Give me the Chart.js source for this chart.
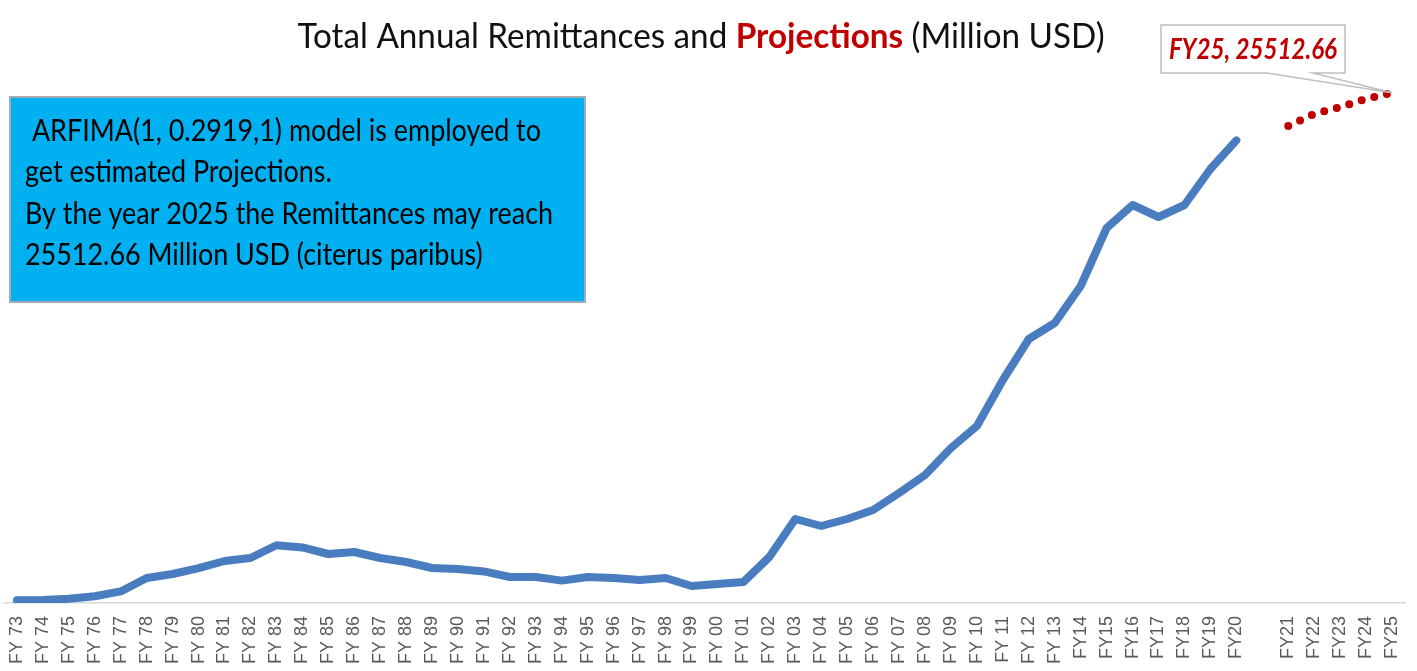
<!DOCTYPE html>
<html>
<head>
<meta charset="utf-8">
<title>Total Annual Remittances and Projections</title>
<script src="https://cdn.jsdelivr.net/npm/chart.js@4/dist/chart.umd.min.js"></script>
<style>
  html, body { margin: 0; padding: 0; background: #fff; }
  #wrap { width: 1417px; height: 671px; position: relative; }
</style>
</head>
<body>
<div id="wrap"><canvas id="remitChart" width="1417" height="671"></canvas></div>
<script>
// fiscal years, history then projections (one blank slot between them)
const historyYears = ['FY 73','FY 74','FY 75','FY 76','FY 77','FY 78','FY 79','FY 80','FY 81','FY 82',
  'FY 83','FY 84','FY 85','FY 86','FY 87','FY 88','FY 89','FY 90','FY 91','FY 92','FY 93','FY 94',
  'FY 95','FY 96','FY 97','FY 98','FY 99','FY 00','FY 01','FY 02','FY 03','FY 04','FY 05','FY 06',
  'FY 07','FY 08','FY 09','FY 10','FY 11','FY 12','FY 13','FY14','FY15','FY16','FY17','FY18','FY19','FY20'];
const projectionYears = ['FY21','FY22','FY23','FY24','FY25'];

// million USD
const remittances = [136, 150, 210, 339, 578, 1250, 1450, 1748, 2100, 2250,
  2886, 2780, 2450, 2550, 2250, 2050, 1750, 1700, 1580, 1300, 1300, 1120,
  1300, 1250, 1150, 1250, 850, 950, 1050, 2300, 4200, 3850, 4200, 4650,
  5500, 6400, 7750, 8850, 11150, 13200, 14000, 15850, 18750, 19900, 19300, 19900, 21700, 23131];
const projections = [23850, 24450, 24800, 25200, 25512.66];

const noteLines = [
  ' ARFIMA(1, 0.2919,1) model is employed to',
  'get estimated Projections.',
  'By the year 2025 the Remittances may reach',
  '25512.66 Million USD (citerus paribus)'
];

const labels = historyYears.concat([''], projectionYears);
const gap = new Array(projectionYears.length + 1).fill(null);
const histData = remittances.concat(gap);
const projData = new Array(historyYears.length + 1).fill(null).concat(projections);

// draw a run of differently styled text pieces squeezed into a given width
function drawParts(ctx, parts, x, y, width, align) {
  let total = 0;
  parts.forEach(p => { ctx.font = p.font; p.w = ctx.measureText(p.text).width; total += p.w; });
  const sx = width ? width / total : 1;
  ctx.save();
  ctx.translate(align === 'center' ? x - total * sx / 2 : x, y);
  ctx.scale(sx, 1);
  ctx.textBaseline = 'alphabetic';
  ctx.textAlign = 'left';
  let cx = 0;
  parts.forEach(p => {
    ctx.font = p.font;
    ctx.fillStyle = p.color;
    ctx.fillText(p.text, cx, 0);
    cx += p.w;
  });
  ctx.restore();
}

const overlay = {
  id: 'overlay',
  afterDraw(chart) {
    const ctx = chart.ctx;

    // title
    drawParts(ctx, [
      { text: 'Total Annual Remittances and ', font: '34px Lato', color: '#111' },
      { text: 'Projections', font: 'bold 34px Lato', color: '#c00000' },
      { text: ' (Million USD)', font: '34px Lato', color: '#111' }
    ], 701, 48, 807, 'center');

    // note box
    ctx.save();
    ctx.fillStyle = '#00b0f0';
    ctx.fillRect(10, 97, 575, 205);
    ctx.strokeStyle = '#a3acb3';
    ctx.lineWidth = 2;
    ctx.strokeRect(10, 97, 575, 205);
    ctx.restore();
    const noteFont = '30px Lato';
    ctx.font = noteFont;
    const sx = 528 / ctx.measureText(noteLines[2]).width;
    const baselines = [141, 182, 224, 265];
    noteLines.forEach((t, i) => {
      ctx.font = noteFont;
      const w = ctx.measureText(t).width * sx;
      drawParts(ctx, [{ text: t, font: noteFont, color: '#000' }], 25, baselines[i], w, 'left');
    });

    // callout for the last projected point
    const meta = chart.getDatasetMeta(1);
    const pt = meta.data[meta.data.length - 1];
    ctx.save();
    ctx.fillStyle = '#fff';
    ctx.strokeStyle = '#bfbfbf';
    ctx.lineWidth = 1.5;
    ctx.beginPath();
    ctx.moveTo(1161, 25);
    ctx.lineTo(1345, 25);
    ctx.lineTo(1345, 73);
    ctx.lineTo(1313, 73);
    ctx.lineTo(pt.x, pt.y);
    ctx.lineTo(1267, 73);
    ctx.lineTo(1161, 73);
    ctx.closePath();
    ctx.fill();
    ctx.stroke();
    ctx.restore();
    const last = projections[projections.length - 1];
    drawParts(ctx, [{ text: projectionYears[projectionYears.length - 1] + ', ' + last,
      font: 'italic bold 29px Lato', color: '#c00000' }], 1253, 59, 168, 'center');
  }
};

new Chart(document.getElementById('remitChart'), {
  type: 'line',
  data: {
    labels: labels,
    datasets: [
      {
        label: 'Remittances',
        data: histData,
        borderColor: '#4a7cc0',
        borderWidth: 8,
        borderJoinStyle: 'round',
        borderCapStyle: 'round',
        pointRadius: 0,
        tension: 0,
        spanGaps: false
      },
      {
        label: 'Projections',
        data: projData,
        borderColor: '#c00000',
        borderWidth: 8,
        borderDash: [0, 13],
        borderCapStyle: 'round',
        pointRadius: 0,
        tension: 0,
        spanGaps: false
      }
    ]
  },
  options: {
    responsive: false,
    animation: false,
    devicePixelRatio: 1,
    layout: { padding: { top: 83, left: 4, right: 12, bottom: 0 } },
    plugins: { legend: { display: false }, tooltip: { enabled: false }, title: { display: false } },
    scales: {
      y: { display: false, min: 0, max: 26000 },
      x: {
        offset: true,
        grid: { display: false, drawTicks: false },
        border: { display: true, color: '#d9d9d9', width: 1.5 },
        ticks: {
          autoSkip: false,
          minRotation: 90,
          maxRotation: 90,
          padding: 13,
          color: '#595959',
          font: { family: 'Liberation Sans', size: 18 }
        },
        afterFit(axis) {
          axis.height = 68;
          axis.paddingLeft = 0;
          axis.paddingRight = 0;
        }
      }
    }
  },
  plugins: [overlay]
});
</script>
</body>
</html>
